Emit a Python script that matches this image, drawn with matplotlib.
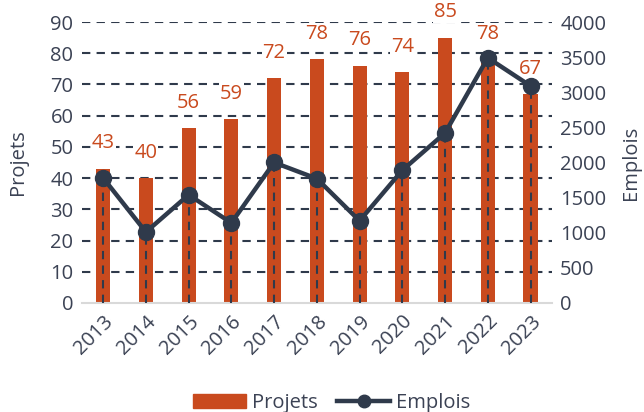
import matplotlib
matplotlib.use("Agg")
import matplotlib.pyplot as plt
from matplotlib.lines import Line2D
from matplotlib.patches import Patch
import numpy as np

years = ["2013", "2014", "2015", "2016", "2017", "2018", "2019", "2020", "2021", "2022", "2023"]
projets = [43, 40, 56, 59, 72, 78, 76, 74, 85, 78, 67]
emplois = [1780, 1010, 1540, 1140, 2000, 1770, 1170, 1890, 2420, 3490, 3090]

BAR = "#C94A1E"
LINE = "#2F3A4B"
TXT = "#3B4254"

plt.rcParams['font.family'] = ['Open Sans', 'DejaVu Sans']
FS = 14.5

fig = plt.figure(figsize=(6.44, 4.12), dpi=100)
ax = fig.add_axes([0.127, 0.2646, 0.730, 0.682])
ax2 = ax.twinx()

x = np.arange(len(years))
ax.set_xlim(-0.5, len(years) - 0.5)
ax.set_ylim(0, 90)
ax2.set_ylim(0, 4000)

for v in range(10, 100, 10):
    ax.axhline(v, color=LINE, lw=1.5, ls=(0, (4, 3)), zorder=0)

ax.bar(x, projets, width=0.33, color=BAR, zorder=2)
for xi, v in zip(x, projets):
    ax.annotate(str(v), (xi, v), xytext=(0, 11), textcoords='offset points',
                ha='center', va='bottom', color=BAR, fontsize=FS, zorder=3,
                bbox=dict(boxstyle='square,pad=0.05', fc='white', ec='none'))

ax2.vlines(x, 0, emplois, colors=LINE, linestyles=(0, (4, 3)), lw=1.5, zorder=3)
ax2.plot(x, emplois, color=LINE, lw=3.2, marker='o', markersize=11.5, zorder=4)

ax.set_yticks(range(0, 100, 10))
ax2.set_yticks(range(0, 4500, 500))
ax.set_xticks(x)
ax.set_xticklabels(years, rotation=45, ha='right', rotation_mode='anchor')

for a in (ax, ax2):
    for s in a.spines.values():
        s.set_visible(False)
    a.tick_params(length=0, labelsize=FS, colors=TXT)
ax.spines['bottom'].set_visible(True)
ax.spines['bottom'].set_color('#D9D9D9')
ax.spines['bottom'].set_linewidth(1.5)
ax.tick_params(axis='x', pad=6)
ax.tick_params(axis='y', pad=6)
ax2.tick_params(axis='y', pad=6)

ax.set_ylabel("Projets", fontsize=FS, color=TXT)
ax.yaxis.set_label_coords(-0.115, 0.5)
ax2.set_ylabel("Emplois", fontsize=FS, color=TXT, rotation=90)
ax2.yaxis.set_label_coords(1.148, 0.5)

handles = [Patch(color=BAR, label="Projets"),
           Line2D([0], [0], color=LINE, lw=3.2, marker='o', markersize=9, label="Emplois")]
fig.legend(handles=handles, loc='center', bbox_to_anchor=(0.515, 0.022), ncol=2,
           frameon=False, fontsize=FS, labelcolor=TXT, handlelength=2.6,
           columnspacing=1.0, handletextpad=0.3)

fig.savefig("out.png", dpi=100)
